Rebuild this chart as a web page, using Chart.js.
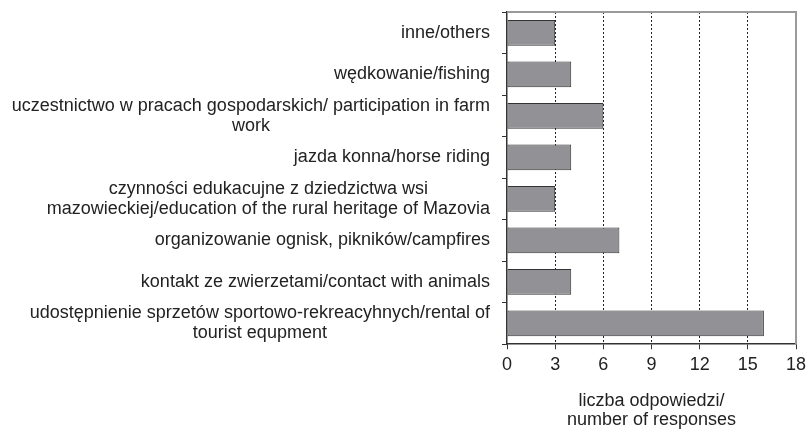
<!DOCTYPE html>
<html><head><meta charset="utf-8">
<script src="https://cdn.jsdelivr.net/npm/chart.js@4"></script>
<style>html,body{margin:0;padding:0;background:#fff}#wrap{width:808px;height:433px}</style>
</head><body><div id="wrap"><canvas id="c"></canvas></div>
<script>
const categories = [
  "inne/others",
  "wędkowanie/fishing",
  ["uczestnictwo w pracach gospodarskich/ participation in farm", "work"],
  "jazda konna/horse riding",
  ["czynności edukacujne z dziedzictwa wsi", "mazowieckiej/education of the rural heritage of Mazovia"],
  "organizowanie ognisk, pikników/campfires",
  "kontakt ze zwierzetami/contact with animals",
  ["udostępnienie sprzetów sportowo-rekreacyhnych/rental of", "tourist equpment"]
];
const responses = [3, 4, 6, 4, 3, 7, 4, 16];
const xTicks = [0, 3, 6, 9, 12, 15, 18];
const axisTitle = ["liczba odpowiedzi/", "number of responses"];

const FONT = "'Liberation Sans', Arial, sans-serif";

const frame = {
  id: 'frame',
  afterDatasetsDraw(chart) {
    const {ctx, chartArea: a} = chart;
    ctx.save();
    ctx.strokeStyle = '#9a9a9a';
    ctx.lineWidth = 2;
    ctx.beginPath();
    ctx.moveTo(a.left, a.top);
    ctx.lineTo(a.right, a.top);
    ctx.lineTo(a.right, a.bottom);
    ctx.stroke();
    ctx.restore();
  }
};

// category labels: each block right-aligned to the axis, lines centred within the block
const catLabels = {
  id: 'catLabels',
  afterDraw(chart) {
    const {ctx} = chart;
    const ys = chart.scales.y;
    const right = chart.chartArea.left - 17;
    const lineH = 20;
    ctx.save();
    ctx.font = '18px ' + FONT;
    ctx.fillStyle = '#222';
    ctx.textBaseline = 'middle';
    chart.data.labels.forEach((lab, i) => {
      const lines = Array.isArray(lab) ? lab : [lab];
      const yc = ys.getPixelForValue(i);
      const w = Math.max(...lines.map(l => ctx.measureText(l).width));
      lines.forEach((l, j) => {
        const yy = yc - (lines.length - 1) * lineH / 2 + j * lineH;
        if (lines.length === 1) {
          ctx.textAlign = 'right';
          ctx.fillText(l, right, yy);
        } else {
          ctx.textAlign = 'center';
          ctx.fillText(l, right - w / 2, yy);
        }
      });
    });
    ctx.restore();
  }
};

Chart.defaults.font.family = FONT;
Chart.defaults.color = '#222';
new Chart(document.getElementById('c'), {
  type: 'bar',
  data: {
    labels: categories,
    datasets: [{
      data: responses,
      backgroundColor: '#929296',
      borderColor: '#333',
      borderWidth: 1,
      borderSkipped: false,
      barPercentage: 1,
      categoryPercentage: 0.62
    }]
  },
  options: {
    indexAxis: 'y',
    responsive: true,
    maintainAspectRatio: false,
    animation: false,
    layout: {padding: {top: 12, right: 12, bottom: 3, left: 0}},
    plugins: {legend: {display: false}, tooltip: {enabled: false}},
    scales: {
      x: {
        min: 0, max: 18,
        afterBuildTicks(s) { s.ticks = xTicks.map(v => ({value: v})); },
        afterFit(s) { s.paddingLeft = 0; s.paddingRight = 0; },
        ticks: {font: {size: 18, lineHeight: 1.2}, color: '#222', padding: 5, maxRotation: 0},
        grid: {
          color: c => (c.tick && (c.tick.value === 0 || c.tick.value === 18)) ? 'rgba(0,0,0,0)' : '#222',
          tickBorderDash: [],
          tickColor: '#333',
          tickLength: 5,
          lineWidth: 1
        },
        border: {color: '#333', width: 1.5, dash: [2, 2]},
        title: {display: true, text: axisTitle, font: {size: 18, lineHeight: 1.06}, color: '#222', padding: {top: 11, bottom: 0}}
      },
      y: {
        afterFit(s) { s.width = 507; s.paddingTop = 0; s.paddingBottom = 0; },
        ticks: {display: false, autoSkip: false},
        grid: {offset: true, drawOnChartArea: false, drawTicks: true, tickLength: 5, tickColor: '#333'},
        border: {color: '#333', width: 1.5}
      }
    }
  },
  plugins: [frame, catLabels]
});
</script></body></html>
